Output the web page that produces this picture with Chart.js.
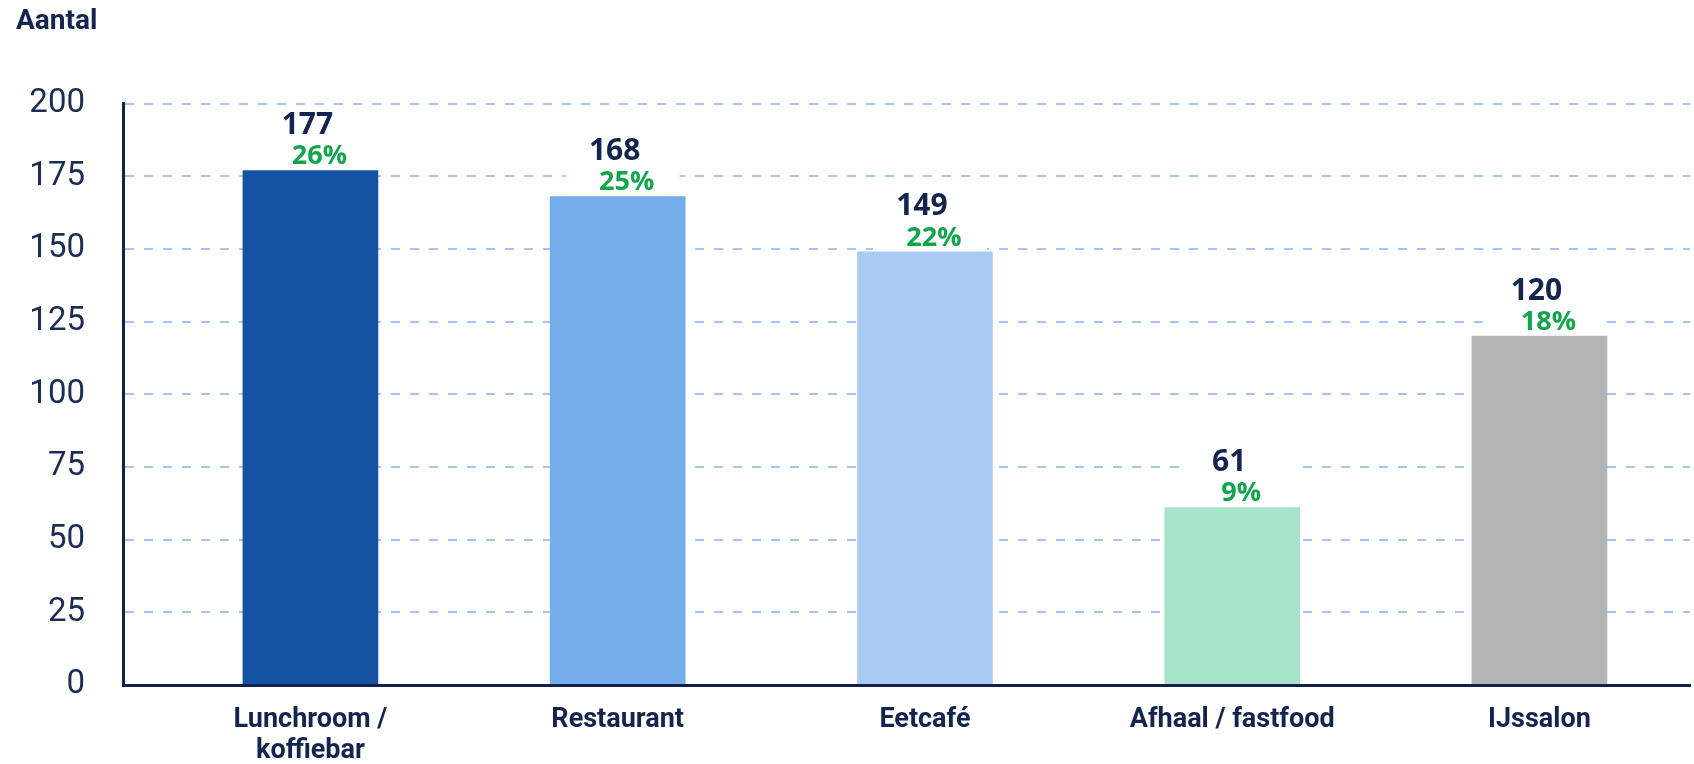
<!DOCTYPE html>
<html>
<head>
<meta charset="utf-8">
<script src="https://cdn.jsdelivr.net/npm/chart.js@4.4.1/dist/chart.umd.min.js"></script>
<style>
    html, body { margin: 0; padding: 0; background: #ffffff; }
    #wrap { width: 1694px; height: 764px; position: relative; }
</style>
</head>
<body>
<div id="wrap"><canvas id="chart"></canvas></div>
<script>
// chart data
var categories = [['Lunchroom /', 'koffiebar'], 'Restaurant', 'Eetcafé', 'Afhaal / fastfood', 'IJssalon'];
var counts = [177, 168, 149, 61, 120];
var percents = [26, 25, 22, 9, 18];
var barColors = ['#1652a4', '#75adea', '#a9cbf3', '#a7e3c7', '#b4b4b4'];

var navy = '#13244f';
var green = '#12a64c';

// count + percentage above each bar, on a white patch that hides the grid line
var barLabels = {
    id: 'barLabels',
    afterDatasetsDraw: function (chart) {
        var ctx = chart.ctx;
        var meta = chart.getDatasetMeta(0);
        meta.data.forEach(function (bar, i) {
            var x = bar.x, y = bar.y;
            ctx.save();
            ctx.fillStyle = '#ffffff';
            ctx.fillRect(x - 52, y - 62, 114, 61);
            ctx.textAlign = 'center';
            ctx.textBaseline = 'middle';
            ctx.fillStyle = navy;
            ctx.font = 'bold 30px "Open Sans"';
            ctx.fillText(String(counts[i]), x - 3, y - 45);
            ctx.fillStyle = green;
            ctx.font = 'bold 27px "Open Sans"';
            ctx.fillText(percents[i] + '%', x + 9, y - 14);
            ctx.restore();
        });
    }
};

function makeChart() {
    var ctx = document.getElementById('chart').getContext('2d');
    new Chart(ctx, {
        type: 'bar',
        data: {
            datasets: [{
                data: counts.map(function (v, i) { return { x: i, y: v }; }),
                backgroundColor: barColors,
                borderWidth: 0,
                barThickness: 135
            }]
        },
        options: {
            responsive: true,
            maintainAspectRatio: false,
            animation: false,
            layout: { padding: { left: 16, right: 4, top: 0, bottom: 0 } },
            plugins: {
                legend: { display: false },
                tooltip: { enabled: false },
                title: {
                    display: true,
                    text: 'Aantal',
                    align: 'start',
                    color: navy,
                    font: { family: 'Roboto', size: 28, weight: 'bold', lineHeight: 1.2 },
                    padding: { top: 5, bottom: 65 }
                }
            },
            scales: {
                x: {
                    type: 'linear',
                    min: -0.61,
                    max: 4.49,
                    offset: false,
                    grid: { display: false, drawTicks: false, offset: false },
                    border: { display: true, color: '#13204a', width: 3, z: 1 },
                    ticks: {
                        stepSize: 1,
                        includeBounds: false,
                        autoSkip: false,
                        maxRotation: 0,
                        padding: 20,
                        color: navy,
                        font: { family: 'Roboto', size: 27, weight: 'bold', lineHeight: 1.15 },
                        callback: function (v) {
                            return Number.isInteger(v) && categories[v] ? categories[v] : '';
                        }
                    },
                    afterFit: function (scale) { scale.height = 79; }
                },
                y: {
                    min: 0,
                    max: 200,
                    grid: { color: '#a2c7f7', lineWidth: 2, drawTicks: false },
                    border: { display: true, color: '#13204a', width: 3, dash: [9, 10], z: 1 },
                    ticks: {
                        stepSize: 25,
                        padding: 38,
                        color: '#1b2c55',
                        font: { family: 'Roboto', size: 33 }
                    },
                    afterFit: function (scale) { scale.width = 107; }
                }
            }
        },
        plugins: [barLabels]
    });
}

var fontLoads = [
    'bold 28px Roboto', '33px Roboto', 'bold 27px Roboto',
    'bold 30px "Open Sans"', 'bold 27px "Open Sans"'
].map(function (f) { return document.fonts.load(f); });

Promise.all(fontLoads).then(makeChart, makeChart);
</script>
</body>
</html>
